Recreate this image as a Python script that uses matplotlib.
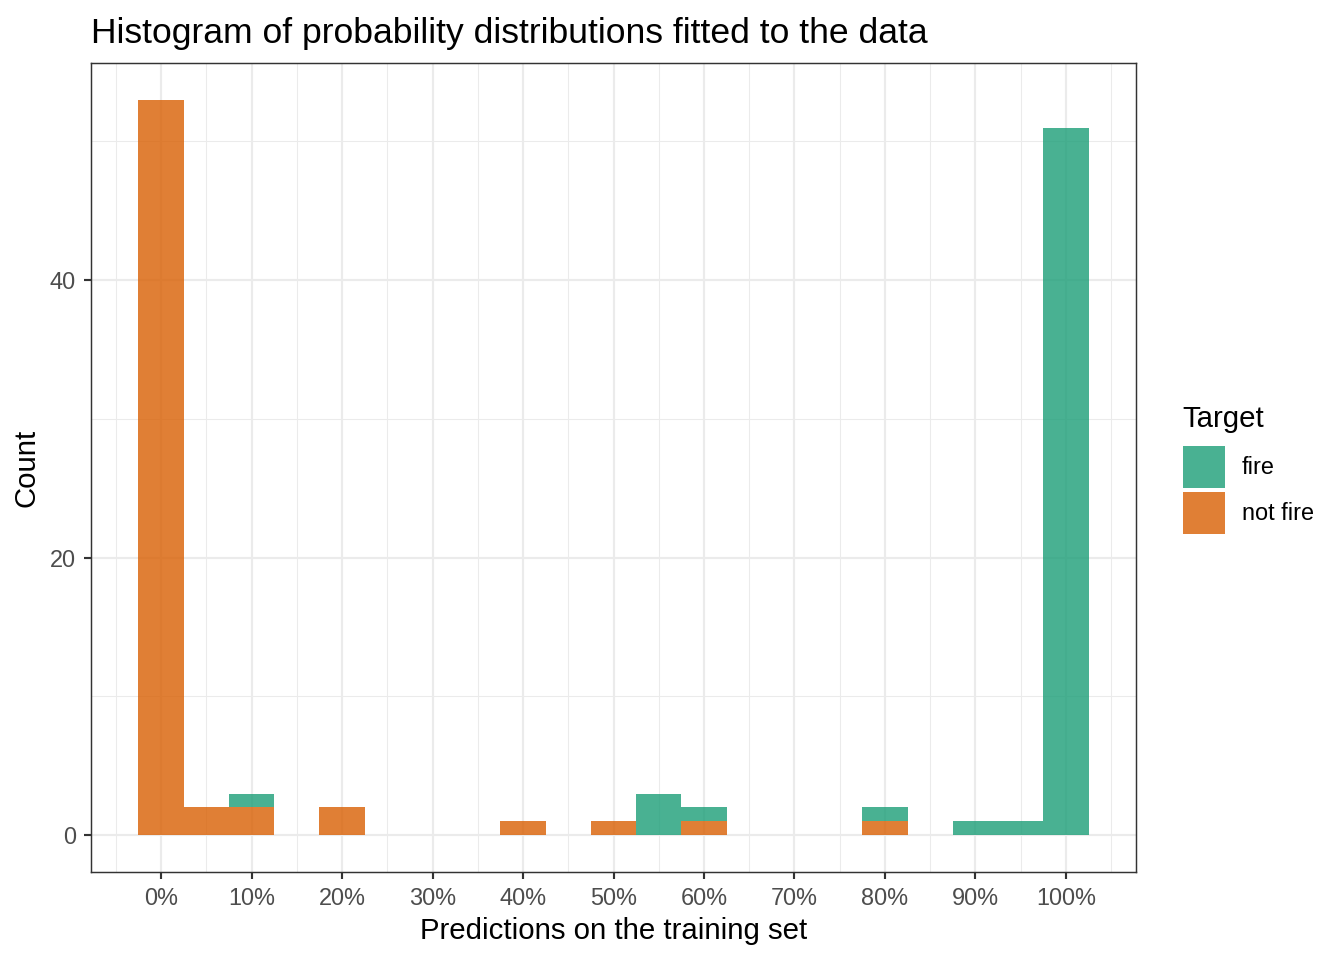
import numpy as np
import matplotlib
matplotlib.use("Agg")
import matplotlib.pyplot as plt
from matplotlib.patches import Patch

plt.rcParams['font.family'] = ['Liberation Sans', 'DejaVu Sans']

# bin centres (probability) and stacked counts per target class
bin_centers = [0.00, 0.05, 0.10, 0.15, 0.20, 0.25, 0.30, 0.35, 0.40, 0.45, 0.50,
               0.55, 0.60, 0.65, 0.70, 0.75, 0.80, 0.85, 0.90, 0.95, 1.00]
not_fire = [53, 2, 2, 0, 2, 0, 0, 0, 1, 0, 1, 0, 1, 0, 0, 0, 1, 0, 0, 0, 0]
fire = [0, 0, 1, 0, 0, 0, 0, 0, 0, 0, 0, 3, 1, 0, 0, 0, 1, 0, 1, 1, 51]
classes = ["fire", "not fire"]
x_ticks = [0.0, 0.1, 0.2, 0.3, 0.4, 0.5, 0.6, 0.7, 0.8, 0.9, 1.0]
y_ticks = [0, 20, 40]

col_fire = "#1B9E77"
col_not = "#D95F02"
binw = 0.05

fig = plt.figure(figsize=(7, 5), dpi=192)
ax = fig.add_axes([91 / 1344, 88 / 960, 1045 / 1344, 809 / 960])

ax.bar(bin_centers, not_fire, width=binw, color=col_not, alpha=0.8, linewidth=0, zorder=3)
ax.bar(bin_centers, fire, width=binw, bottom=not_fire, color=col_fire, alpha=0.8,
       linewidth=0, zorder=3)

# ggplot-like expansion
lo, hi = bin_centers[0] - binw / 2, bin_centers[-1] + binw / 2
ex = (hi - lo) * 0.05
ax.set_xlim(lo - ex, hi + ex)
ymax = max(n + f for n, f in zip(not_fire, fire))
ax.set_ylim(-ymax * 0.05, ymax * 1.05)

ax.set_xticks(x_ticks)
ax.set_xticklabels([f"{int(round(t * 100))}%" for t in x_ticks])
ax.set_xticks(np.arange(-0.05, 1.1, 0.1), minor=True)
ax.set_yticks(y_ticks)
ax.set_yticks([10, 30, 50], minor=True)

ax.grid(which="major", color="#EBEBEB", linewidth=0.8, zorder=0)
ax.grid(which="minor", color="#EBEBEB", linewidth=0.4, zorder=0)
ax.set_axisbelow(True)

for s in ax.spines.values():
    s.set_color("#333333")
    s.set_linewidth(0.55)

ax.tick_params(which="major", length=2.75, width=0.8, color="#333333",
               labelsize=8.8, labelcolor="#4D4D4D", pad=3)
ax.tick_params(which="minor", length=0)

ax.set_xlabel("Predictions on the training set", fontsize=11, labelpad=2.5)
ax.set_ylabel("Count", fontsize=11, labelpad=3.5)
ax.set_title("Histogram of probability distributions fitted to the data",
             loc="left", fontsize=13.3, pad=7.5)

handles = [Patch(facecolor=col_fire, alpha=0.8, linewidth=0),
           Patch(facecolor=col_not, alpha=0.8, linewidth=0)]
fig.text(1182 / 1344, 1 - 427 / 960, "Target", fontsize=11, va="baseline")
leg = fig.legend(handles, classes, loc="upper left",
                 bbox_to_anchor=(1183 / 1344, 1 - 446 / 960), frameon=False,
                 fontsize=8.8, handlelength=1.79, handleheight=2.377,
                 labelspacing=0.17, handletextpad=0.72,
                 borderpad=0, borderaxespad=0)

fig.savefig("out.png", dpi=192)
